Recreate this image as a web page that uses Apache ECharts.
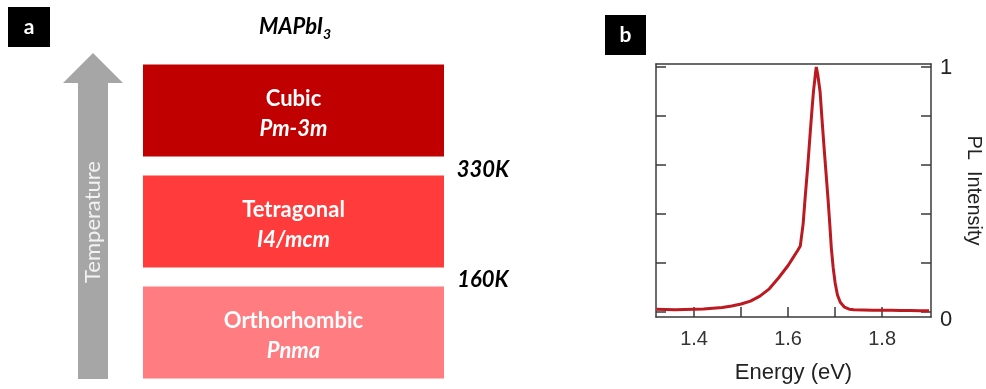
<!DOCTYPE html>
<html>
<head>
<meta charset="utf-8">
<script src="https://cdn.jsdelivr.net/npm/echarts@6/dist/echarts.min.js"></script>
<style>html,body{margin:0;padding:0;background:#fff}#c{width:986px;height:389px}</style>
</head>
<body>
<div id="c"></div>
<script>
// Panel a: phases (bottom to top)
var phaseNames = ['Orthorhombic', 'Tetragonal', 'Cubic'];
var spaceGroups = ['Pnma', 'I4/mcm', 'Pm-3m'];
var phaseSpan = [1, 1, 1];
var transitionLabels = ['330K', '160K'];

// Panel b: PL spectrum
var energy = [1.32,1.34,1.36,1.38,1.40,1.42,1.44,1.46,1.48,1.50,1.52,1.54,1.56,1.58,1.60,1.61,1.62,1.626,1.632,1.636,1.642,1.647,1.651,1.654,1.658,1.660,1.663,1.668,1.672,1.677,1.681,1.685,1.689,1.692,1.696,1.700,1.705,1.711,1.72,1.73,1.74,1.76,1.78,1.80,1.82,1.84,1.86,1.88,1.90];
var intensity = [0.012,0.011,0.010,0.011,0.012,0.013,0.016,0.019,0.025,0.033,0.045,0.065,0.095,0.14,0.19,0.22,0.25,0.27,0.36,0.46,0.60,0.73,0.83,0.90,0.97,1.0,0.97,0.90,0.79,0.66,0.56,0.46,0.35,0.26,0.18,0.12,0.07,0.04,0.02,0.012,0.010,0.009,0.008,0.008,0.008,0.007,0.007,0.006,0.006];
var xTicks = [1.4, 1.5, 1.6, 1.7, 1.8];
var xTickLabels = [1.4, 1.6, 1.8];
var yTicks = [0, 0.2, 0.4, 0.6, 0.8, 1];
var yTickLabels = [0, 1];

var phaseColors = ['#FF7C80', '#FF3B3B', '#C00000'];
var AX = '#3a3a3a';

var chart = echarts.init(document.getElementById('c'), null, {renderer: 'canvas'});
var option = {
  animation: false,
  backgroundColor: '#ffffff',
  grid: [
    {left: 143, width: 301, top: 55, height: 333, outerBoundsMode: 'none', containLabel: false},
    {left: 656, width: 275, top: 64, height: 253, outerBoundsMode: 'none', containLabel: false}
  ],
  xAxis: [
    {gridIndex: 0, type: 'value', min: 0, max: 1, show: false},
    {gridIndex: 1, type: 'value', min: 1.319, max: 1.904, position: 'bottom',
     axisLine: {show: true, onZero: false, lineStyle: {color: AX, width: 1.5}},
     axisTick: {show: true, inside: true, length: 10, customValues: xTicks, lineStyle: {color: AX, width: 1.5}},
     axisLabel: {customValues: xTickLabels, color: '#333', fontFamily: 'Liberation Sans', fontSize: 20, margin: 12,
       formatter: function (v) { return v.toFixed(1); }},
     splitLine: {show: false},
     name: 'Energy (eV)', nameLocation: 'middle', nameGap: 45, nameMoveOverlap: false,
     nameTextStyle: {color: '#222', fontFamily: 'Liberation Sans', fontSize: 22, verticalAlign: 'top'}},
    {gridIndex: 1, type: 'value', min: 1.319, max: 1.904, position: 'top',
     axisLine: {show: true, onZero: false, lineStyle: {color: AX, width: 1.5}},
     axisTick: {show: false}, axisLabel: {show: false}, splitLine: {show: false}}
  ],
  yAxis: [
    {gridIndex: 0, type: 'category', data: phaseNames, show: false},
    {gridIndex: 1, type: 'value', min: -0.02, max: 1.012, position: 'left',
     axisLine: {show: true, onZero: false, lineStyle: {color: AX, width: 1.5}},
     axisTick: {show: true, inside: true, length: 10, customValues: yTicks, lineStyle: {color: AX, width: 1.5}},
     axisLabel: {show: false}, splitLine: {show: false}},
    {gridIndex: 1, type: 'value', min: -0.02, max: 1.012, position: 'right',
     axisLine: {show: true, onZero: false, lineStyle: {color: AX, width: 1.5}},
     axisTick: {show: true, inside: true, length: 10, customValues: yTicks, lineStyle: {color: AX, width: 1.5}},
     axisLabel: {customValues: yTickLabels, color: '#222', fontFamily: 'Liberation Sans', fontSize: 22, margin: 9,
       formatter: function (v) { return v === 0 ? '{lo|0}' : '{hi|' + v + '}'; },
       rich: {lo: {fontFamily: 'Liberation Sans', fontSize: 22, color: '#222', padding: [16, 0, 0, 0]},
              hi: {fontFamily: 'Liberation Sans', fontSize: 22, color: '#222', padding: [2, 0, 0, 0]}}},
     splitLine: {show: false},
     name: 'PL  Intensity', nameLocation: 'middle', nameGap: 33, nameRotate: -90, nameMoveOverlap: false,
     nameTextStyle: {color: '#222', fontFamily: 'Liberation Sans', fontSize: 20}}
  ],
  series: [
    {type: 'bar', xAxisIndex: 0, yAxisIndex: 0, barWidth: 92,
     data: phaseSpan.map(function (v, i) {
       return {value: v, itemStyle: {color: phaseColors[i]}};
     }),
     label: {show: true, position: 'inside', offset: [0, 3],
       formatter: function (p) {
         return '{n|' + phaseNames[p.dataIndex] + '}\n{g|' + spaceGroups[p.dataIndex] + '}';
       },
       rich: {
         n: {color: '#ffffff', fontFamily: 'Lato', fontWeight: 'bold', fontSize: 22, lineHeight: 30},
         g: {color: '#ffffff', fontFamily: 'Lato', fontWeight: 'bold', fontStyle: 'italic', fontSize: 22, lineHeight: 30}
       }}
    },
    {type: 'line', xAxisIndex: 1, yAxisIndex: 1, showSymbol: false,
     lineStyle: {color: '#BA1A20', width: 3},
     data: energy.map(function (e, i) { return [e, intensity[i]]; })}
  ],
  graphic: [
    {type: 'rect', shape: {x: 8, y: 7, width: 42, height: 40}, style: {fill: '#000'}},
    {type: 'text', x: 29, y: 27, style: {text: 'a', fill: '#fff', font: 'bold 21px Lato', align: 'center', verticalAlign: 'middle'}},
    {type: 'rect', shape: {x: 605, y: 15, width: 41, height: 40}, style: {fill: '#000'}},
    {type: 'text', x: 625.5, y: 35, style: {text: 'b', fill: '#fff', font: 'bold 21px Lato', align: 'center', verticalAlign: 'middle'}},
    {type: 'polygon', shape: {points: [[78,379],[78,83],[63,83],[93,53],[123,83],[108,83],[108,379]]}, style: {fill: '#A6A6A6'}},
    {type: 'text', x: 93, y: 222, rotation: Math.PI / 2,
     style: {text: 'Temperature', fill: '#F2F2F2', font: '22px Lato', align: 'center', verticalAlign: 'middle'}},
    {type: 'text', x: 295, y: 27,
     style: {text: '{m|MAPbI}{s|3}', align: 'center', verticalAlign: 'middle',
       rich: {m: {font: 'italic bold 22px Lato', fill: '#000'}, s: {font: 'italic bold 14px Lato', fill: '#000', padding: [14, 0, 0, 0]}}}},
    {type: 'text', x: 483, y: 170, style: {text: transitionLabels[0], fill: '#000', font: 'italic bold 22px Lato', align: 'center', verticalAlign: 'middle'}},
    {type: 'text', x: 483, y: 280, style: {text: transitionLabels[1], fill: '#000', font: 'italic bold 22px Lato', align: 'center', verticalAlign: 'middle'}}
  ]
};
chart.setOption(option);
</script>
</body>
</html>
